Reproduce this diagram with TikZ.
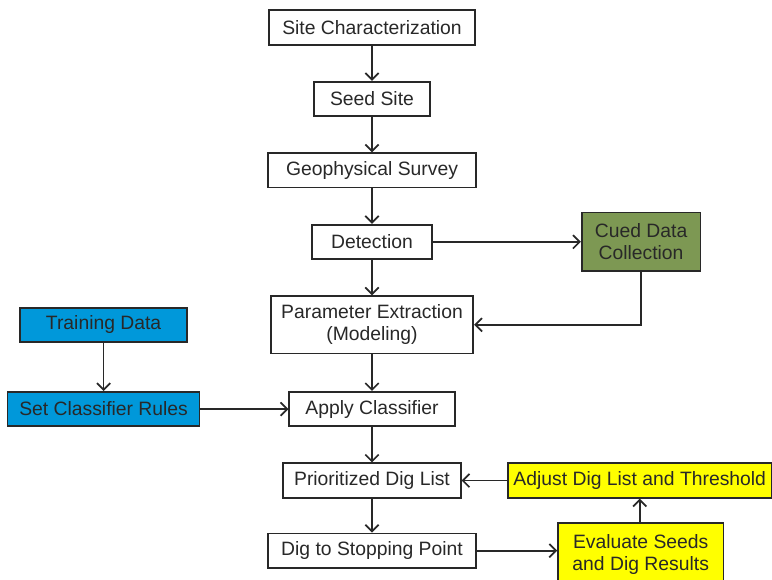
\documentclass[tikz,border=0pt]{standalone}
\usepackage{fontspec}
\setmainfont{Liberation Sans}
\definecolor{cuedgreen}{RGB}{125,152,83}
\definecolor{trainblue}{RGB}{0,152,218}
\definecolor{evalyellow}{RGB}{255,255,0}
\definecolor{inkgray}{RGB}{40,40,40}
\usetikzlibrary{arrows.meta,positioning}
\tikzset{
	stage/.style={
		rectangle,
		draw=inkgray,
		line width=1.3pt,
		fill=white,
		minimum height=25.8pt,
		inner sep=2pt,
		font=\fontsize{14.5}{16.5}\selectfont\color{inkgray},
		align=center,
	},
	cuedstage/.style={
		stage,
		fill=cuedgreen,
	},
	trainstage/.style={
		stage,
		fill=trainblue,
	},
	evalstage/.style={
		stage,
		fill=evalyellow,
	},
	link/.style={
		-{Straight Barb[length=5pt,width=10pt]},
		line width=1.3pt,
		draw=inkgray,
	},
}

\begin{document}
\begin{tikzpicture}[node distance=26.5pt]
	\useasboundingbox (0,0) rectangle (579pt,-435pt);
	\node[stage,minimum width=155pt] at (279pt,-20.6pt) (site) {Site Characterization};
	\node[stage,minimum width=87.5pt,below=of site]     (seed) {Seed Site};
	\node[stage,minimum width=156pt,below=of seed]      (geo) {Geophysical Survey};
	\node[stage,minimum width=90pt,below=of geo]        (det) {Detection};
	\node[stage,minimum width=152pt,minimum height=43pt,below=of det] (param) {Parameter Extraction\\(Modeling)};
	\node[stage,minimum width=124pt,below=27.5pt of param] (apply) {Apply Classifier};
	\node[stage,minimum width=133pt,below=of apply]     (prior) {Prioritized Dig List};
	\node[stage,minimum width=156.5pt,below=25.5pt of prior] (dig) {Dig to Stopping Point};

	\node[cuedstage,minimum width=89pt,minimum height=44pt,right=111pt of det] (cued) {Cued Data\\Collection};
	\node[trainstage,minimum width=144pt,left=66pt of apply]  (rules) {Set Classifier Rules};
	\node[trainstage,minimum width=125pt,above=36pt of rules] (train) {Training Data};
	\node[evalstage,minimum width=198pt,right=34pt of prior]  (adjust) {Adjust Dig List and Threshold};
	\node[evalstage,minimum width=124pt,minimum height=48pt,right=60pt of dig,yshift=-3pt] (eval) {Evaluate Seeds\\and Dig Results};

	\draw[link] (site) -- (seed);
	\draw[link] (seed) -- (geo);
	\draw[link] (geo) -- (det);
	\draw[link] (det) -- (param);
	\draw[link] (param) -- (apply);
	\draw[link] (apply) -- (prior);
	\draw[link] (prior) -- (dig);
	\draw[link] (det) -- (cued);
	\draw[link] (cued.south) |- (param.east);
	\draw[link] (train) -- (rules);
	\draw[link] (rules) -- (apply);
	\draw[link] (dig.east) -- (dig.east -| eval.west);
	\draw[link] (eval.north -| adjust.south) -- (adjust.south);
	\draw[link] (adjust) -- (prior);
\end{tikzpicture}
\end{document}
